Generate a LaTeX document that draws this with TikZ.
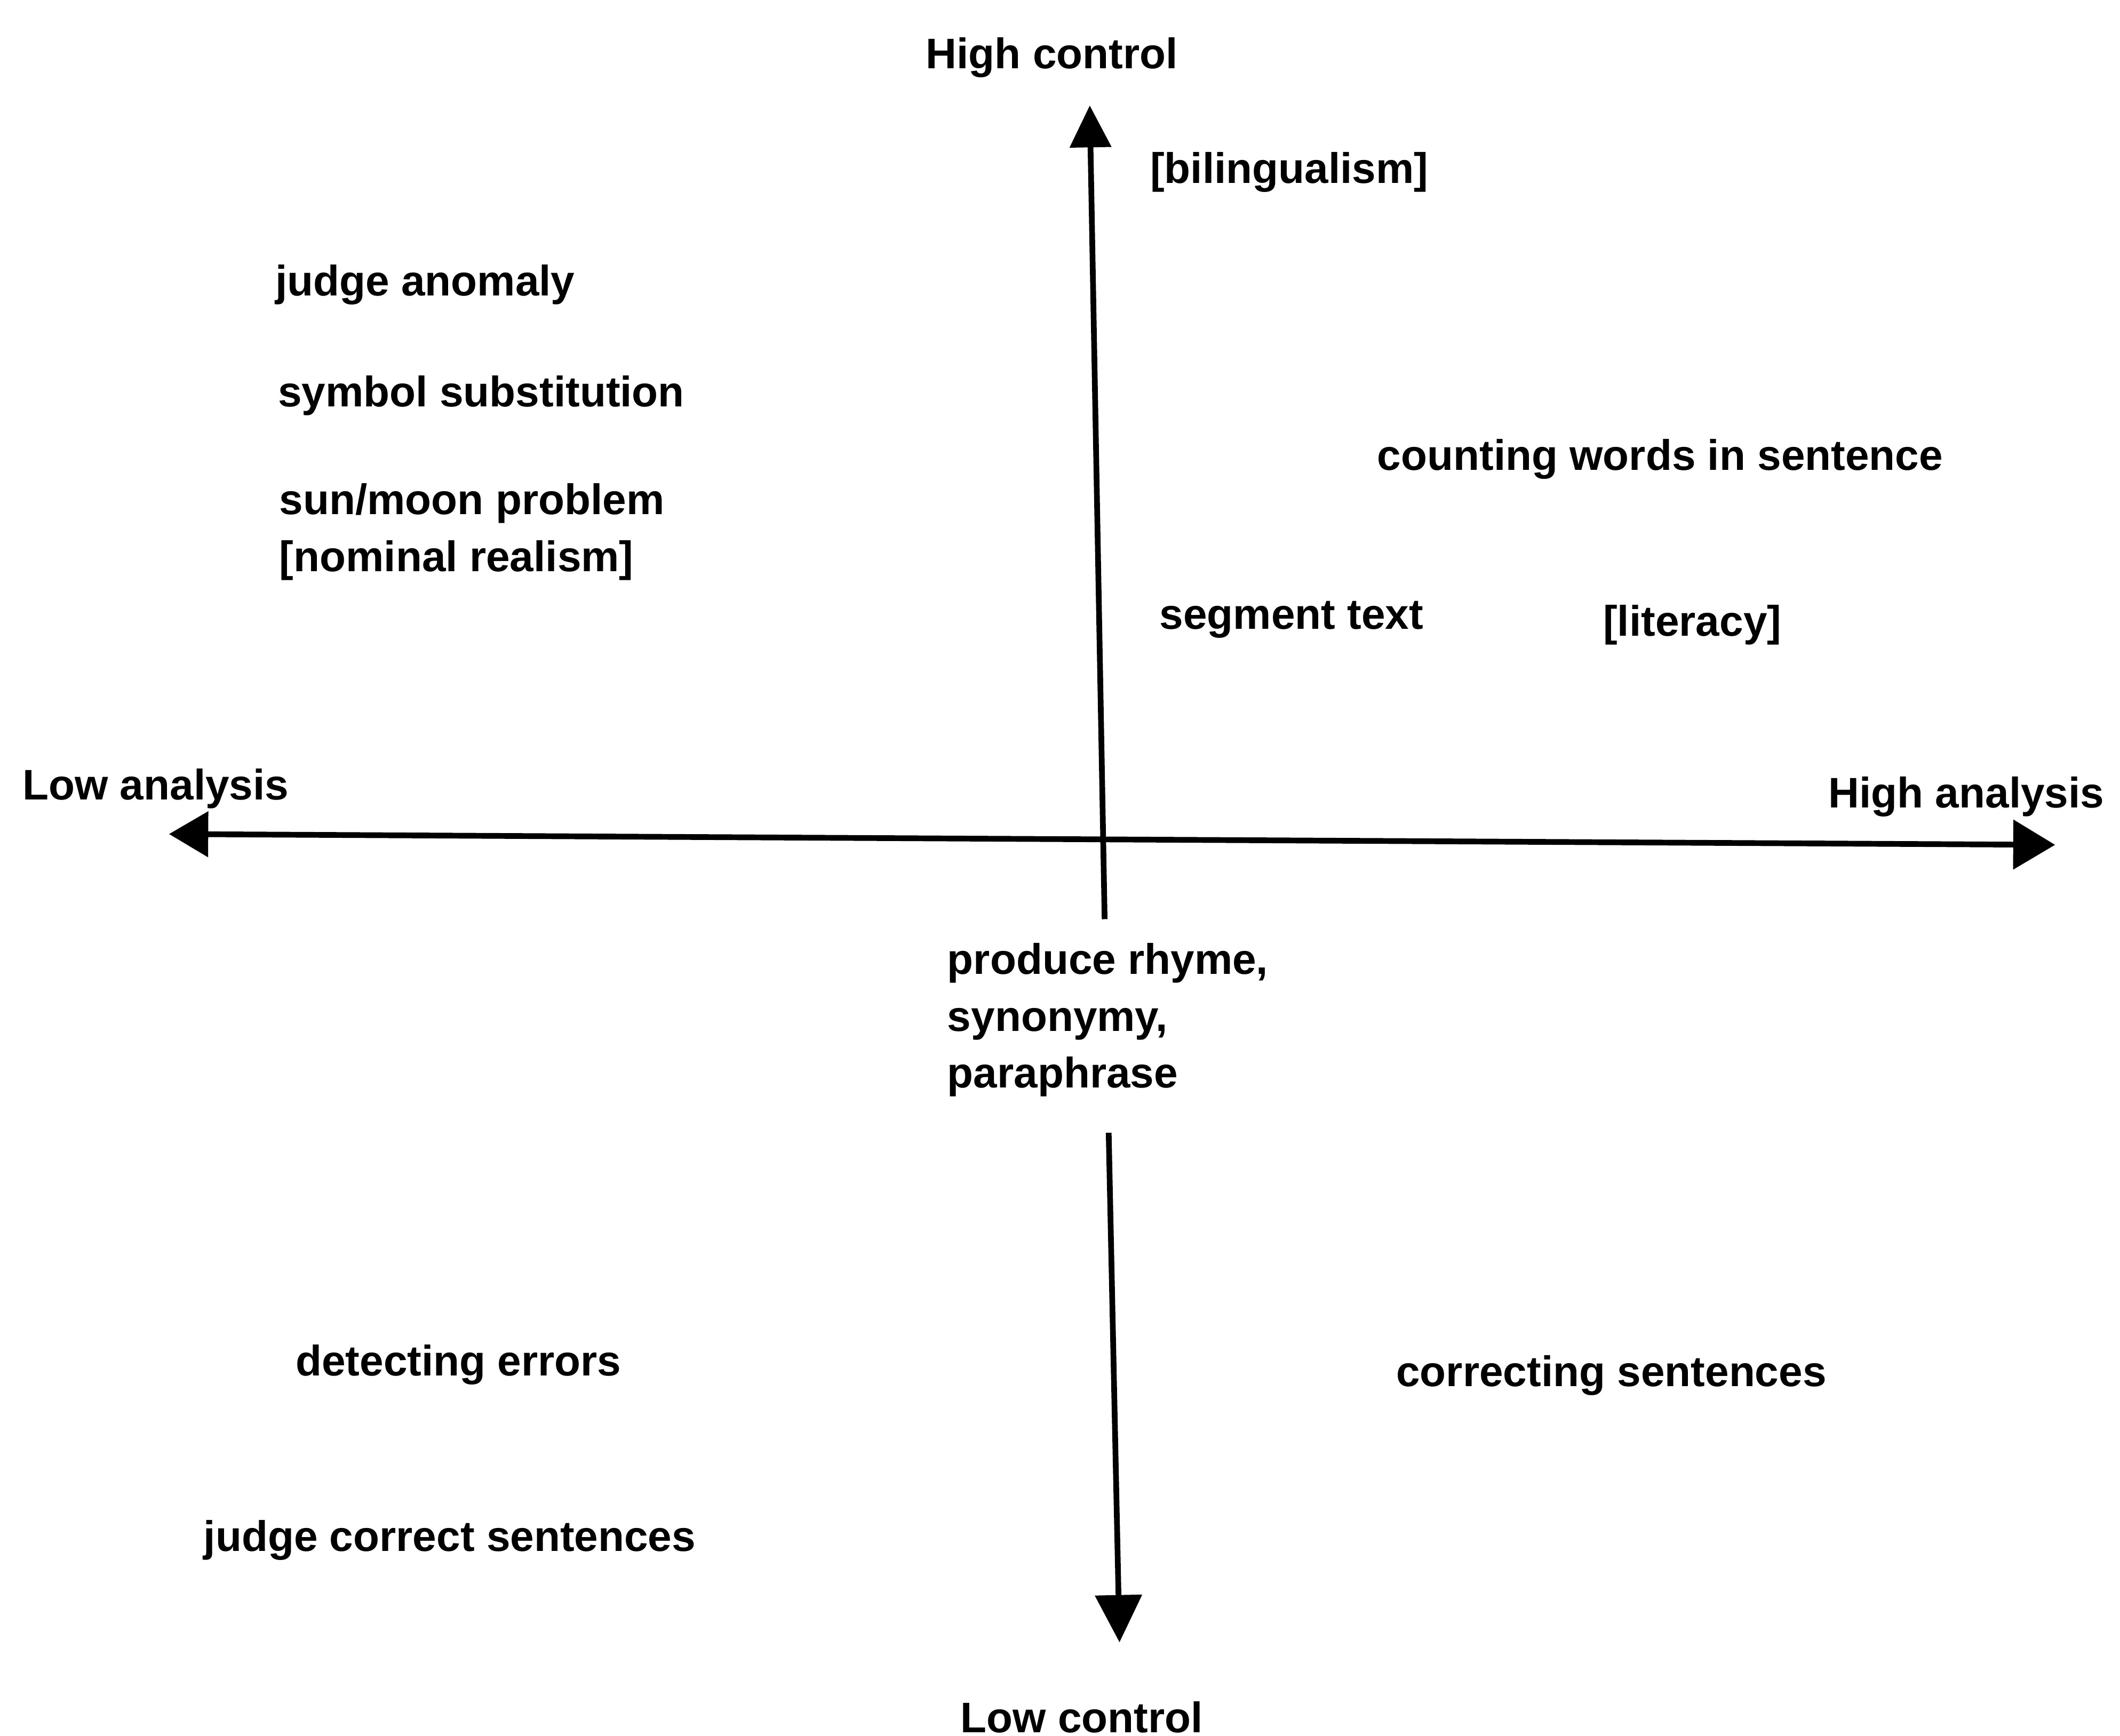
\documentclass[tikz,border=0pt]{standalone}
\usepackage{fontspec}
\setmainfont{Liberation Sans}
\usepackage{tikz}
\usetikzlibrary{arrows.meta,positioning}

\begin{document}
\begin{tikzpicture}
[axis/.style={line width=1.2pt},
 lbl/.style={anchor=west,inner sep=0pt,align=left,yshift=-0.025cm,font=\bfseries\fontsize{9}{12}\selectfont},
 pole/.style={inner sep=0pt,yshift=-0.025cm,font=\bfseries\fontsize{9}{12}\selectfont}]

\useasboundingbox (0,0) rectangle (15.68,-12.84);

% axis ends
\coordinate (vt) at (8.06,-0.78);
\coordinate (vm) at (8.17,-6.80);
\coordinate (vb0) at (8.20,-8.38);
\coordinate (vb) at (8.28,-12.15);
\coordinate (hl) at (1.25,-6.17);
\coordinate (hr) at (15.20,-6.25);

\node[pole] (HC) at (7.78,-0.40) {High control};
\node[pole] (LC) at (8.00,-12.68) {Low control};
\node[pole,anchor=west] (LA) at (0.16,-5.81) {Low analysis};
\node[pole,anchor=east] (HA) at (15.57,-5.87) {High analysis};

\draw [axis,-{Triangle[length=0.31cm,width=0.30cm]}] (vm) -- (vt);
\draw [axis,-{Triangle[length=0.35cm,width=0.34cm]}] (vb0) -- (vb);
\draw [axis,{Triangle[length=0.29cm,width=0.33cm]}-{Triangle[length=0.31cm,width=0.36cm]}] (hl) -- (hr);

\node[lbl] (bil) at (8.50,-1.25) {[bilingualism]};
\node[lbl] (ja) at (2.03,-2.08) {judge anomaly};
\node[lbl] (ss) at (2.05,-2.90) {symbol substitution};
\node[lbl] (smp) at (2.06,-3.91) {sun/moon problem\\{}[nominal realism]};
\node[lbl] (cw) at (10.18,-3.37) {counting words in sentence};
\node[lbl] (st) at (8.57,-4.56) {segment text};
\node[lbl] (lit) at (11.85,-4.60) {[literacy]};
\node[lbl] (pr) at (7.00,-7.52) {produce rhyme,\\synonymy,\\paraphrase};
\node[lbl] (de) at (2.18,-10.07) {detecting errors};
\node[lbl] (cs) at (10.32,-10.15) {correcting sentences};
\node[lbl] (jc) at (1.50,-11.37) {judge correct sentences};
\end{tikzpicture}
\end{document}
